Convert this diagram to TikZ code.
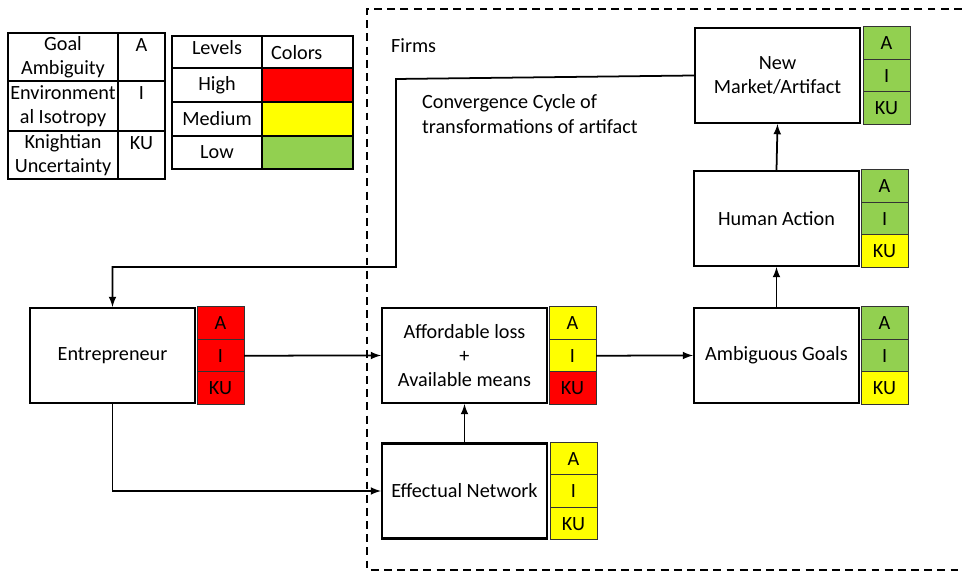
\documentclass[tikz,border=0pt]{standalone}
\usepackage{fontspec}
\setmainfont{Carlito}
\usepackage{xcolor}
\usetikzlibrary{shapes,arrows,positioning,calc}

\definecolor{lvlhigh}{HTML}{FF0000}
\definecolor{lvlmed}{HTML}{FFFF00}
\definecolor{lvllow}{HTML}{92D050}

\begin{document}
\begin{tikzpicture}[x=0.02cm,y=-0.02cm,
    every node/.style={font=\fontsize{11.5}{13.8}\selectfont,align=center,inner sep=1pt},
    stage/.style={rectangle,draw,line width=1.2pt,fill=white,minimum width=3.3cm,minimum height=1.9cm},
    lvl/.style={rectangle,draw=black!80,line width=0.6pt,minimum width=0.94cm,minimum height=0.65cm,outer sep=0pt},
    tab/.style={rectangle,draw,line width=0.7pt,outer sep=0pt},
    link/.style={-latex,line width=1pt}]
    \useasboundingbox (0,0) rectangle (963,573);

    % Firms boundary
    \draw[line width=1.2pt,dash pattern=on 4.5pt off 3pt] (975,9) -- (367,9) -- (367,570) -- (975,570);
    \node[anchor=west] (firms) at (389,46) {Firms};
    \node[anchor=west,align=left] (cycle) at (420,114) {Convergence Cycle of\\transformations of artifact};

    % Legend: symbols
    \node[tab,minimum width=2.2cm,minimum height=0.96cm,anchor=north west] (ga) at (8,33) {Goal\\Ambiguity};
    \node[tab,minimum width=2.2cm,minimum height=1.0cm,anchor=north west] (ei) at (ga.south west) {Environment\\al Isotropy};
    \node[tab,minimum width=2.2cm,minimum height=0.96cm,anchor=north west] (ku) at (ei.south west) {Knightian\\Uncertainty};
    \node[tab,minimum width=0.94cm,minimum height=0.96cm,anchor=north west] (gaS) at (ga.north east) {};
    \node[tab,minimum width=0.94cm,minimum height=1.0cm,anchor=north west] (eiS) at (ei.north east) {};
    \node[tab,minimum width=0.94cm,minimum height=0.96cm,anchor=north west] (kuS) at (ku.north east) {};
    \node[below=2pt of gaS.north] {A};
    \node[below=2pt of eiS.north] {I};
    \node[below=2pt of kuS.north] {KU};

    % Legend: colours
    \node[tab,minimum width=1.8cm,minimum height=0.64cm,anchor=north west] (lv) at (172,36) {};
    \node[tab,minimum width=1.82cm,minimum height=0.64cm,anchor=north west] (co) at (lv.north east) {};
    \node (lvT) at ($(lv.center)+(0,-4)$) {Levels};
    \node[anchor=west] (coT) at ($(co.west)+(7,1)$) {Colors};
    \node[tab,minimum width=1.8cm,minimum height=0.68cm,anchor=north west] (hi) at (lv.south west) {High};
    \node[tab,minimum width=1.8cm,minimum height=0.68cm,anchor=north west] (me) at (hi.south west) {Medium};
    \node[tab,minimum width=1.8cm,minimum height=0.66cm,anchor=north west] (lo) at (me.south west) {Low};
    \node[tab,fill=lvlhigh,minimum width=1.82cm,minimum height=0.68cm,anchor=north west] (hiC) at (hi.north east) {};
    \node[tab,fill=lvlmed,minimum width=1.82cm,minimum height=0.68cm,anchor=north west] (meC) at (me.north east) {};
    \node[tab,fill=lvllow,minimum width=1.82cm,minimum height=0.66cm,anchor=north west] (loC) at (lo.north east) {};

    % Entrepreneur
    \node[stage] (ent) at (112.5,355.5) {Entrepreneur};
    \node[lvl,fill=lvlhigh,anchor=north west] (entA) at ($(ent.north east)+(1,0)$) {A};
    \node[lvl,fill=lvlhigh,below=0pt of entA] (entI) {I};
    \node[lvl,fill=lvlhigh,below=0pt of entI] (entK) {KU};

    % Affordable loss + available means
    \node[stage] (aff) at (464.5,355.5) {Affordable loss\\+\\Available means};
    \node[lvl,fill=lvlmed,anchor=north west] (affA) at ($(aff.north east)+(1,0)$) {A};
    \node[lvl,fill=lvlmed,below=0pt of affA] (affI) {I};
    \node[lvl,fill=lvlhigh,below=0pt of affI] (affK) {KU};

    % Effectual network
    \node[stage] (eff) at (464.5,491) {Effectual Network};
    \node[lvl,fill=lvlmed,anchor=north west] (effA) at ($(eff.north east)+(2,0)$) {A};
    \node[lvl,fill=lvlmed,below=0pt of effA] (effI) {I};
    \node[lvl,fill=lvlmed,below=0pt of effI] (effK) {KU};

    % Ambiguous goals
    \node[stage] (amb) at (776.5,355.5) {Ambiguous Goals};
    \node[lvl,fill=lvllow,anchor=north west] (ambA) at ($(amb.north east)+(1,0)$) {A};
    \node[lvl,fill=lvllow,below=0pt of ambA] (ambI) {I};
    \node[lvl,fill=lvlmed,below=0pt of ambI] (ambK) {KU};

    % Human action
    \node[stage] (hum) at (776.5,218.5) {Human Action};
    \node[lvl,fill=lvllow,anchor=north west] (humA) at ($(hum.north east)+(1,0)$) {A};
    \node[lvl,fill=lvllow,below=0pt of humA] (humI) {I};
    \node[lvl,fill=lvlmed,below=0pt of humI] (humK) {KU};

    % New market / artifact
    \node[stage] (mkt) at (777.5,75.5) {New\\Market/Artifact};
    \node[lvl,fill=lvllow,anchor=north west] (mktA) at ($(mkt.north east)+(2,0)$) {A};
    \node[lvl,fill=lvllow,below=0pt of mktA] (mktI) {I};
    \node[lvl,fill=lvllow,below=0pt of mktI] (mktK) {KU};

    % Arrows
    \draw[link] (entI.east) -- (aff.west);
    \draw[link] (ent.south) |- (eff.west);
    \draw[link] (eff.north) -- (aff.south);
    \draw[link] (affI.east) -- (amb.west);
    \draw[link] (amb.north) -- (hum.south);
    \draw[link] (hum.north) -- (mkt.south);

    % Convergence cycle back to the entrepreneur
    \coordinate (turnTop) at (396,79);
    \coordinate (turnLow) at (396,267);
    \draw[link] (mkt.west) -- (turnTop) -- (turnLow) -| (ent.north);
\end{tikzpicture}
\end{document}
